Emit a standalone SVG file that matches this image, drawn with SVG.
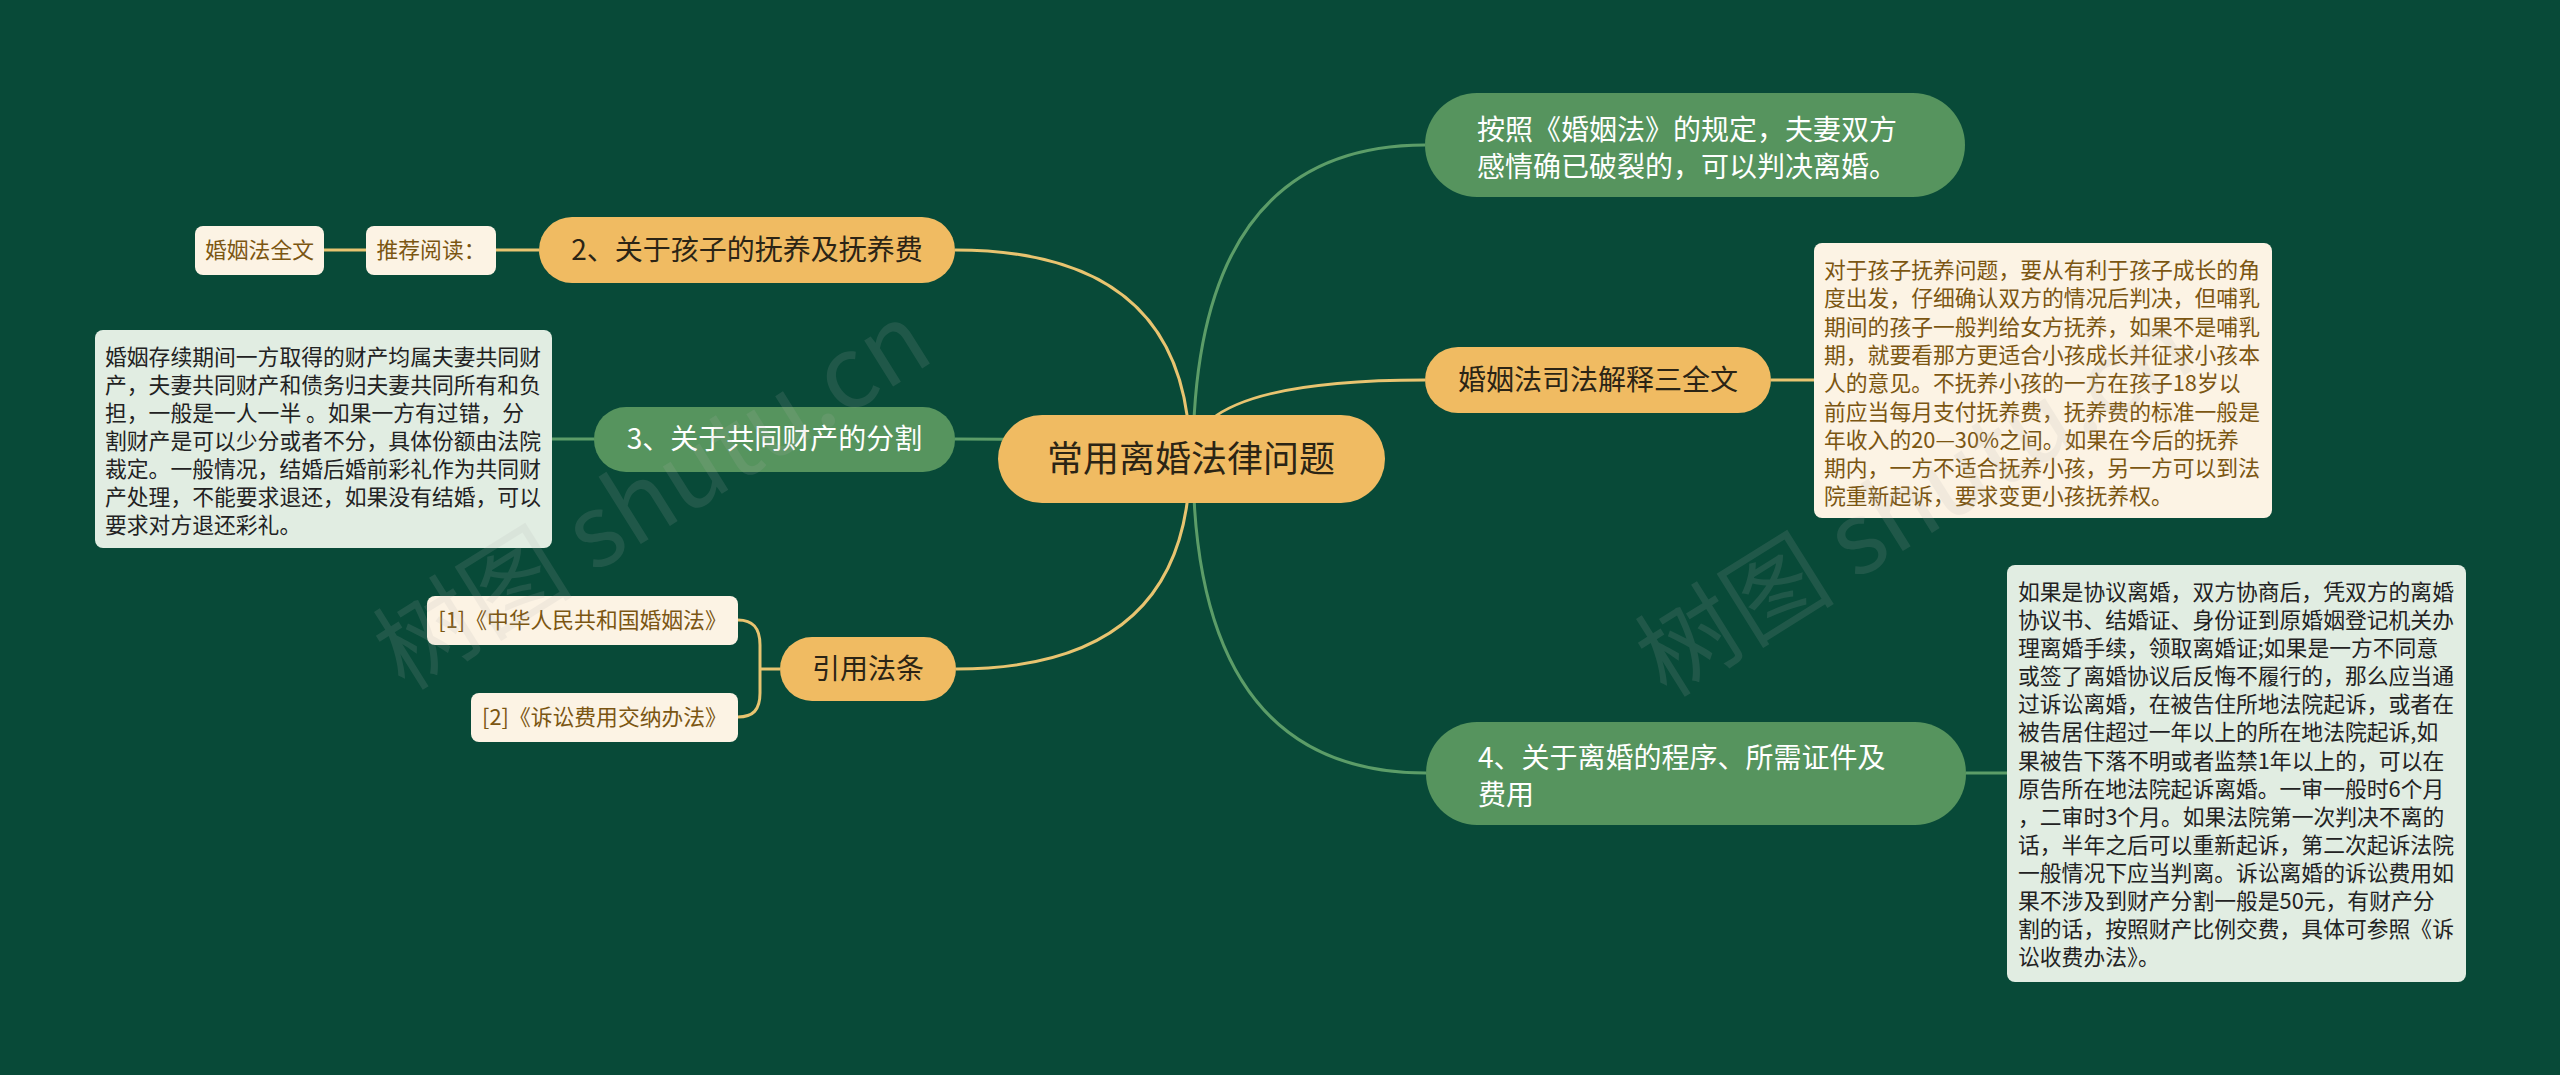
<svg xmlns="http://www.w3.org/2000/svg" width="2560" height="1075" viewBox="0 0 2560 1075">
<style>
.t{font-family:"Noto Sans CJK SC","Noto Sans",sans-serif}
.ly{fill:none;stroke:#E8C470;stroke-width:3}
.lg{fill:none;stroke:#5C9D68;stroke-width:3}
.ny{fill:#F0BB62}
.ng{fill:#56945E}
.cream{fill:#FCF3E4}
.pale{fill:#E1EDE2}
.dk{fill:#2B2415}
.wh{fill:#FFFFFF}
.br{fill:#7B5612}
.bk{fill:#222222}
.wm{font-family:"Noto Sans CJK SC","Noto Sans",sans-serif;font-size:100px;fill:#B0B0B0;opacity:0.14}
</style>
<rect x="0" y="0" width="2560" height="1075" fill="#084A38"/>
<g id="connectors">
<path class="ly" d="M1190,459 Q1190,250 955,250"/>
<path class="ly" d="M539,250 L496,250"/>
<path class="ly" d="M366,250 L324,250"/>
<path class="lg" d="M1191,459 Q1191,439 955,439"/>
<path class="lg" d="M594,439 L552,439"/>
<path class="ly" d="M1190,459 Q1190,669 956,669"/>
<path class="ly" d="M780,669 L760,669"/>
<path class="ly" d="M738,620 C753,620 760,628 760,645 L760,693 C760,710 753,717 738,717"/>
<path class="lg" d="M1193,459 Q1193,145 1425,145"/>
<path class="ly" d="M1191,459 Q1191,380 1425,380"/>
<path class="ly" d="M1771,380 L1814,380"/>
<path class="lg" d="M1193,459 Q1193,773 1426,773"/>
<path class="lg" d="M1966,773 L2007,773"/>
</g>
<g id="root">
<rect class="ny" x="998" y="415" width="387" height="88" rx="44"/>
<text class="t dk" x="1191" y="472" font-size="36" text-anchor="middle">常用离婚法律问题</text>
</g>
<g id="n2">
<rect class="ny" x="539" y="217" width="416" height="66" rx="33"/>
<text class="t dk" x="747" y="260" font-size="28" text-anchor="middle">2、关于孩子的抚养及抚养费</text>
</g>
<g id="n2a">
<rect class="cream" x="366" y="226" width="130" height="49" rx="8"/>
<text class="t br" x="431" y="258" font-size="21.8" text-anchor="middle">推荐阅读：</text>
</g>
<g id="n2b">
<rect class="cream" x="195" y="226" width="129" height="49" rx="8"/>
<text class="t br" x="259.5" y="258" font-size="21.8" text-anchor="middle">婚姻法全文</text>
</g>
<g id="n3">
<rect class="ng" x="594" y="407" width="361" height="65" rx="32"/>
<text class="t wh" x="774.5" y="449" font-size="28" text-anchor="middle">3、关于共同财产的分割</text>
</g>
<g id="n3a">
<rect class="pale" x="95" y="330" width="457" height="218" rx="8"/>
<text class="t bk" font-size="21.8">
<tspan x="105" y="365">婚姻存续期间一方取得的财产均属夫妻共同财</tspan>
<tspan x="105" y="393">产，夫妻共同财产和债务归夫妻共同所有和负</tspan>
<tspan x="105" y="421">担，一般是一人一半 。如果一方有过错，分</tspan>
<tspan x="105" y="449">割财产是可以少分或者不分，具体份额由法院</tspan>
<tspan x="105" y="477">裁定。一般情况，结婚后婚前彩礼作为共同财</tspan>
<tspan x="105" y="505">产处理，不能要求退还，如果没有结婚，可以</tspan>
<tspan x="105" y="533">要求对方退还彩礼。</tspan>
</text>
</g>
<g id="n5">
<rect class="ny" x="780" y="637" width="176" height="64" rx="32"/>
<text class="t dk" x="868" y="679" font-size="28" text-anchor="middle">引用法条</text>
</g>
<g id="n5a">
<rect class="cream" x="427" y="596" width="311" height="49" rx="8"/>
<text class="t br" x="582.5" y="628" font-size="21.8" text-anchor="middle">[1]《中华人民共和国婚姻法》</text>
</g>
<g id="n5b">
<rect class="cream" x="471" y="693" width="267" height="49" rx="8"/>
<text class="t br" x="604.5" y="725" font-size="21.8" text-anchor="middle">[2]《诉讼费用交纳办法》</text>
</g>
<g id="n1">
<rect class="ng" x="1425" y="93" width="540" height="104" rx="52"/>
<text class="t wh" font-size="28">
<tspan x="1477" y="140">按照《婚姻法》的规定，夫妻双方</tspan>
<tspan x="1477" y="177">感情确已破裂的，可以判决离婚。</tspan>
</text>
</g>
<g id="n4">
<rect class="ny" x="1425" y="347" width="346" height="66" rx="33"/>
<text class="t dk" x="1598" y="390" font-size="28" text-anchor="middle">婚姻法司法解释三全文</text>
</g>
<g id="n4a">
<rect class="cream" x="1814" y="243" width="458" height="275" rx="8"/>
<text class="t br" font-size="21.8">
<tspan x="1824" y="278">对于孩子抚养问题，要从有利于孩子成长的角</tspan>
<tspan x="1824" y="306">度出发，仔细确认双方的情况后判决，但哺乳</tspan>
<tspan x="1824" y="334.5">期间的孩子一般判给女方抚养，如果不是哺乳</tspan>
<tspan x="1824" y="363">期，就要看那方更适合小孩成长并征求小孩本</tspan>
<tspan x="1824" y="391">人的意见。不抚养小孩的一方在孩子18岁以</tspan>
<tspan x="1824" y="419.5">前应当每月支付抚养费，抚养费的标准一般是</tspan>
<tspan x="1824" y="448">年收入的20—30%之间。如果在今后的抚养</tspan>
<tspan x="1824" y="476">期内，一方不适合抚养小孩，另一方可以到法</tspan>
<tspan x="1824" y="504">院重新起诉，要求变更小孩抚养权。</tspan>
</text>
</g>
<g id="n6">
<rect class="ng" x="1426" y="722" width="540" height="103" rx="51"/>
<text class="t wh" font-size="28">
<tspan x="1478" y="768">4、关于离婚的程序、所需证件及</tspan>
<tspan x="1478" y="805">费用</tspan>
</text>
</g>
<g id="n6a">
<rect class="pale" x="2007" y="565" width="459" height="417" rx="8"/>
<text class="t bk" font-size="21.8">
<tspan x="2018" y="600">如果是协议离婚，双方协商后，凭双方的离婚</tspan>
<tspan x="2018" y="628">协议书、结婚证、身份证到原婚姻登记机关办</tspan>
<tspan x="2018" y="656">理离婚手续，领取离婚证;如果是一方不同意</tspan>
<tspan x="2018" y="684">或签了离婚协议后反悔不履行的，那么应当通</tspan>
<tspan x="2018" y="712">过诉讼离婚，在被告住所地法院起诉，或者在</tspan>
<tspan x="2018" y="740">被告居住超过一年以上的所在地法院起诉,如</tspan>
<tspan x="2018" y="768.5">果被告下落不明或者监禁1年以上的，可以在</tspan>
<tspan x="2018" y="796.5">原告所在地法院起诉离婚。一审一般时6个月</tspan>
<tspan x="2018" y="824.5">，二审时3个月。如果法院第一次判决不离的</tspan>
<tspan x="2018" y="852.5">话，半年之后可以重新起诉，第二次起诉法院</tspan>
<tspan x="2018" y="881">一般情况下应当判离。诉讼离婚的诉讼费用如</tspan>
<tspan x="2018" y="909">果不涉及到财产分割一般是50元，有财产分</tspan>
<tspan x="2018" y="937">割的话，按照财产比例交费，具体可参照《诉</tspan>
<tspan x="2018" y="965">讼收费办法》。</tspan>
</text>
</g>
<text class="wm" x="655" y="530" text-anchor="middle" transform="rotate(-32 655 500)">树图 shutu.cn</text>
<text class="wm" x="1917" y="537" text-anchor="middle" transform="rotate(-32 1917 507)">树图 shutu.cn</text>
</svg>
